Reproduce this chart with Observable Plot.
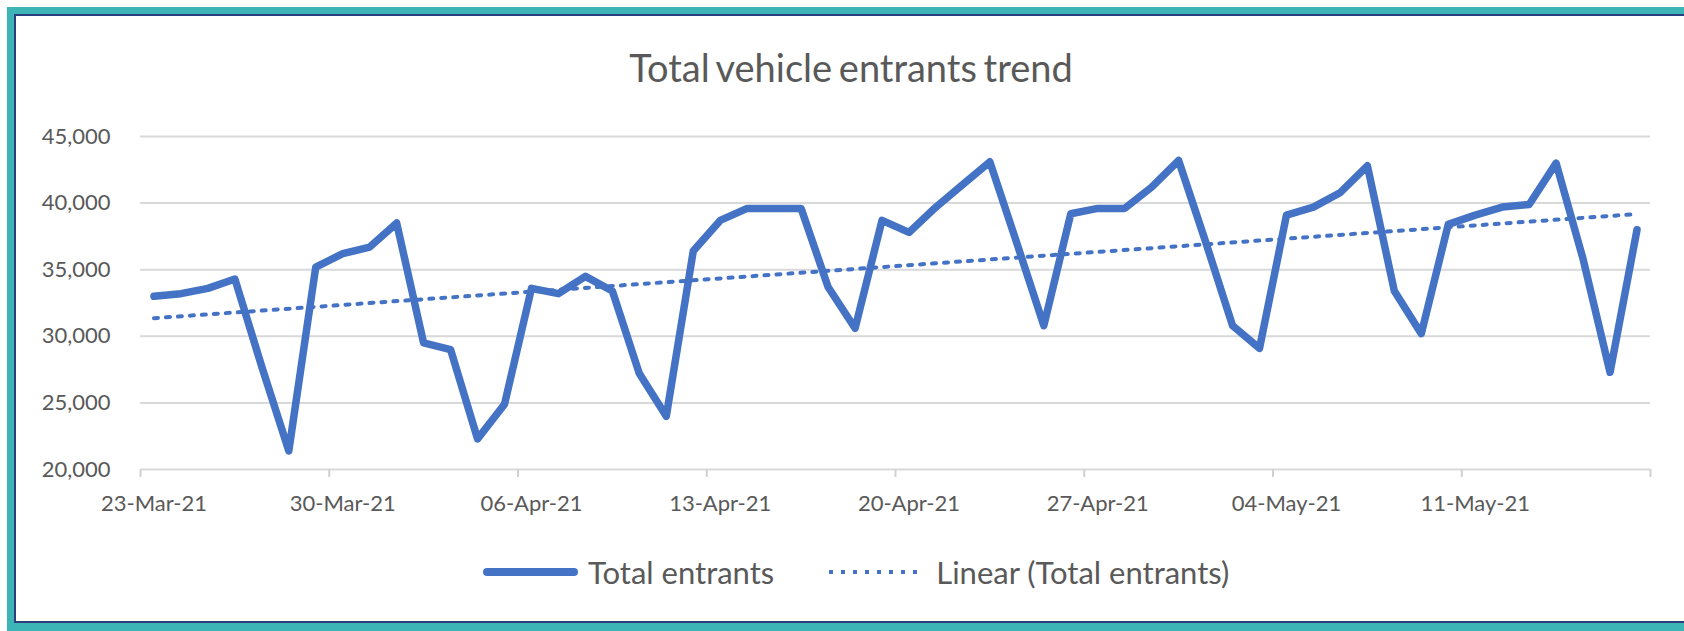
<!DOCTYPE html>
<html>
<head>
<meta charset="utf-8">
<script src="https://cdn.jsdelivr.net/npm/d3@7"></script>
<script src="https://cdn.jsdelivr.net/npm/@observablehq/plot@0.6"></script>
<style>
  html, body { margin: 0; padding: 0; background: #ffffff; }
  #page { position: relative; width: 1684px; height: 631px; overflow: hidden; font-family: Lato, "Open Sans", sans-serif; }
  #teal { position: absolute; left: 7px; top: 7px; right: 0; bottom: 0; background: #3db5b7; }
  #panel { position: absolute; left: 14px; top: 14px; right: 0; bottom: 8px; background: #ffffff;
           border-left: 2.5px solid #2b3f7c; border-top: 2.5px solid #2b3f7c; border-bottom: 2.5px solid #2b3f7c; }
  #title { position: absolute; left: 0; width: 1702px; top: 45px; line-height: 44px; text-align: center;
           font-size: 38px; color: #595959; word-spacing: -3px; }
  #chart { position: absolute; left: 0; top: 0; }
  #legend { position: absolute; left: 483px; top: 552px; height: 40px; display: flex; align-items: center;
            font-size: 31px; color: #595959; white-space: nowrap; }
  #legend svg { display: block; }
</style>
</head>
<body>
<div id="page">
  <div id="teal"></div>
  <div id="panel"></div>
  <div id="chart"></div>
  <div id="title"></div>
  <div id="legend"></div>
</div>
<script>
// ---- data ----
const chartTitle = "Total vehicle entrants trend";
const seriesName = "Total entrants";
const trendName = "Linear (Total entrants)";
const startDate = "2021-03-23";
const totalEntrants = [
  33000, 33200, 33600, 34300, 27700, 21400, 35200,
  36200, 36700, 38500, 29500, 29000, 22300, 24900,
  33600, 33200, 34500, 33400, 27200, 24000, 36400,
  38700, 39600, 39600, 39600, 33700, 30600, 38700,
  37800, 39700, 41400, 43100, 37000, 30800, 39200,
  39600, 39600, 41200, 43200, 37100, 30800, 29100,
  39100, 39700, 40800, 42800, 33400, 30200, 38400,
  39100, 39700, 39900, 43000, 35800, 27300, 38000
];
const xTickLabels = ["2021-03-23", "2021-03-30", "2021-04-06", "2021-04-13",
                     "2021-04-20", "2021-04-27", "2021-05-04", "2021-05-11"];
const yTicks = [20000, 25000, 30000, 35000, 40000, 45000];

// ---- build ----
const start = new Date(startDate + "T00:00:00Z");
const data = totalEntrants.map((v, i) => ({date: d3.utcDay.offset(start, i), value: v}));
const halfBefore = d => d3.utcHour.offset(d, -12);
const xDomain = [halfBefore(data[0].date), d3.utcHour.offset(data[data.length - 1].date, 12)];
const labelDates = xTickLabels.map(s => new Date(s + "T00:00:00Z"));
const boundaryTicks = [...labelDates.map(halfBefore), xDomain[1]];
const blue = "#4472c4";

const chart = Plot.plot({
  width: 1684,
  height: 540,
  marginTop: 136,
  marginBottom: 71,
  marginLeft: 140,
  marginRight: 34,
  style: {fontFamily: "Lato, 'Open Sans', sans-serif", color: "#595959", background: "transparent", overflow: "visible"},
  x: {type: "utc", domain: xDomain},
  y: {domain: [20000, 45000]},
  marks: [
    Plot.gridY(yTicks, {stroke: "#d9d9d9", strokeOpacity: 1, strokeWidth: 2}),
    Plot.axisY(yTicks, {tickSize: 0, tickPadding: 30, tickFormat: d3.format(","), fontSize: 22, label: null}),
    Plot.axisX(boundaryTicks, {tickSize: 8, tickFormat: () => "", stroke: "#d0d0d0", strokeWidth: 2, label: null}),
    Plot.axisX(labelDates, {tickSize: 0, tickPadding: 26, tickFormat: d3.utcFormat("%d-%b-%y"), fontSize: 22, label: null}),
    Plot.linearRegressionY(data, {x: "date", y: "value", ci: 0, stroke: blue, strokeWidth: 4, strokeDasharray: "4 8"}),
    Plot.line(data, {x: "date", y: "value", stroke: blue, strokeWidth: 7.5, strokeLinejoin: "round", strokeLinecap: "round"})
  ]
});
document.getElementById("chart").appendChild(chart);
document.getElementById("title").textContent = chartTitle;

const legend = document.getElementById("legend");
legend.innerHTML =
  `<svg width="95" height="12"><line x1="4" x2="91" y1="6" y2="6" stroke="${blue}" stroke-width="8" stroke-linecap="round"/></svg>` +
  `<span style="margin-left:10px">${seriesName}</span>` +
  `<svg width="92" height="12" style="margin-left:55px"><line x1="0" x2="92" y1="6" y2="6" stroke="${blue}" stroke-width="4" stroke-dasharray="4 8"/></svg>` +
  `<span style="margin-left:15px">${trendName}</span>`;
</script>
</body>
</html>
